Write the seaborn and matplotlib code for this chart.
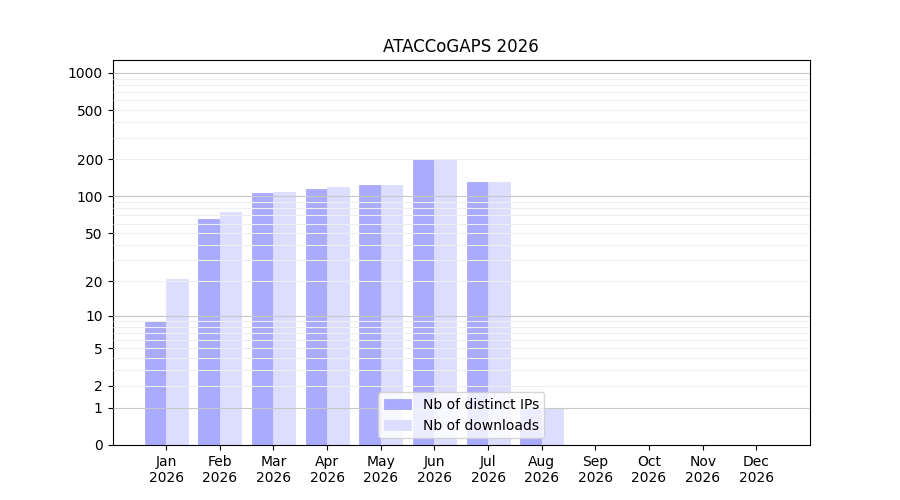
import numpy as np
import pandas as pd
import matplotlib
matplotlib.use('Agg')
import matplotlib.pyplot as plt
import seaborn as sns

months = ['Jan', 'Feb', 'Mar', 'Apr', 'May', 'Jun',
          'Jul', 'Aug', 'Sep', 'Oct', 'Nov', 'Dec']
year = 2026
distinct_ips = [9, 65, 106, 115, 124, 200, 131, 1, 0, 0, 0, 0]
downloads = [21, 74, 108, 119, 124, 203, 131, 1, 0, 0, 0, 0]
ytick_values = [0, 1, 2, 5, 10, 20, 50, 100, 200, 500, 1000]

df = pd.DataFrame({
    'Month': months * 2,
    'Count': distinct_ips + downloads,
    'Series': ['Nb of distinct IPs'] * 12 + ['Nb of downloads'] * 12,
})

fig, ax = plt.subplots(figsize=(9, 5), dpi=100)

# log(y+1) scale so that zero is drawable
ax.set_yscale('function', functions=(lambda y: np.log10(np.maximum(y, 0) + 1),
                                     lambda y: 10 ** y - 1))

sns.barplot(data=df, x='Month', y='Count', hue='Series',
            palette=['#aaaaff', '#ddddff'], width=0.8, saturation=1,
            linewidth=0, edgecolor='none', ax=ax, zorder=2)
# thin edge in the bar's own colour hides the seam between neighbours
for p in ax.patches:
    p.set_edgecolor(p.get_facecolor())
    p.set_linewidth(0.6)

# grid lines
minor_grid = [k * m for k in [1, 10, 100] for m in range(2, 10)]
major_grid = [1, 10, 100, 1000]
ax.hlines(minor_grid, -1, 12, color='#eeeeee', lw=0.8, zorder=3)
ax.hlines(major_grid, -1, 12, color='#c8c8c8', lw=0.8, zorder=3)

ax.set_ylim(0, 1270)
ax.set_xlim(-1, 12)
ax.set_yticks(ytick_values)
ax.set_yticklabels([str(v) for v in ytick_values])
ax.set_xticks(range(12))
ax.set_xticklabels([f'{m}\n{year}' for m in months])
ax.set_xlabel('')
ax.set_ylabel('')
ax.set_title(f'ATACCoGAPS {year}')

leg = ax.legend(loc='lower center')
leg.set_zorder(5)

fig.savefig('out.png', dpi=100)
